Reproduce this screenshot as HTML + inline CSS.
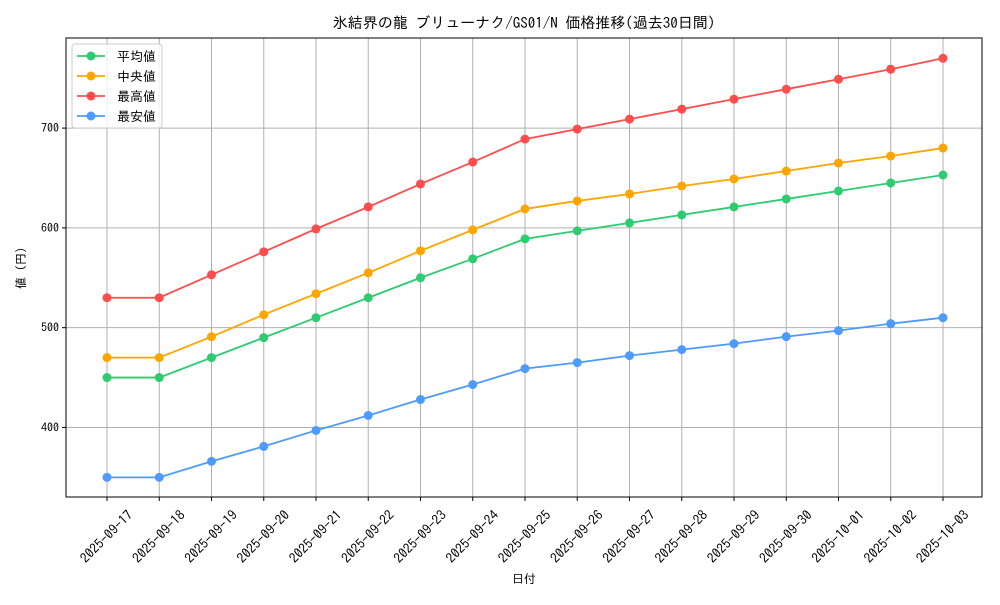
<!DOCTYPE html>
<html><head><meta charset="utf-8"><style>
body{margin:0;background:#fff}
svg text{font-family:"IPAGothic","Liberation Sans",sans-serif;fill:#000}
</style></head><body>
<svg id="c" width="1000" height="600" xmlns="http://www.w3.org/2000/svg"></svg>
<script>
const categories=["2025-09-17","2025-09-18","2025-09-19","2025-09-20","2025-09-21","2025-09-22","2025-09-23","2025-09-24","2025-09-25","2025-09-26","2025-09-27","2025-09-28","2025-09-29","2025-09-30","2025-10-01","2025-10-02","2025-10-03"];
const avgValues=[450,450,470,490,510,530,550,569,589,597,605,613,621,629,637,645,653];
const medianValues=[470,470,491,513,534,555,577,598,619,627,634,642,649,657,665,672,680];
const maxValues=[530,530,553,576,599,621,644,666,689,699,709,719,729,739,749,759,770];
const minValues=[350,350,366,381,397,412,428,443,459,465,472,478,484,491,497,504,510];
const yTicks=[400,500,600,700];
const seriesNames=["平均値","中央値","最高値","最安値"];
const NS="http://www.w3.org/2000/svg";
const svg=document.getElementById('c');
const L=66,R=982,T=38,B=497,yMin=330.3,yMax=790.3;
const xs=i=>107+i*(943-107)/(categories.length-1);
const ys=v=>B-(v-yMin)/(yMax-yMin)*(B-T);
function el(t,a,p){const e=document.createElementNS(NS,t);for(const k in a)e.setAttribute(k,a[k]);(p||svg).appendChild(e);return e;}
categories.forEach((c,i)=>{const g=el('line',{x1:xs(i),x2:xs(i),y1:T,y2:B,stroke:'#b0b0b0','stroke-width':1});


el('line',{x1:xs(i),x2:xs(i),y1:B,y2:B+4,stroke:'#000'});
const cx=xs(i),cy=537;
const t=el('text',{x:cx,y:cy+4,'font-size':13.5,'text-anchor':'middle',transform:`rotate(-45 ${cx} ${cy})`});t.textContent=c;

});
yTicks.forEach(v=>{const g=el('line',{x1:L,x2:R,y1:ys(v),y2:ys(v),stroke:'#b0b0b0','stroke-width':1});


el('line',{x1:L-4,x2:L,y1:ys(v),y2:ys(v),stroke:'#000'});
const t=el('text',{x:L-7,y:ys(v)+4,'font-size':12,'text-anchor':'end'});t.textContent=v;

});
const fr=el('rect',{x:L,y:T,width:R-L,height:B-T,fill:'none',stroke:'#000','stroke-width':1});


const series=[avgValues,medianValues,maxValues,minValues];
const colors=['#2ecc71','#ffa500','#ff4d4d','#4d9bff'];
const names=['series-average','series-median','series-max','series-min'];
series.forEach((s,k)=>{const g=el('g',{});


el('polyline',{points:s.map((v,i)=>xs(i)+','+ys(v)).join(' '),fill:'none',stroke:colors[k],'stroke-width':1.8},g);
s.forEach((v,i)=>{const c=el('circle',{cx:xs(i),cy:ys(v),r:4.5,fill:colors[k]},g);

});});
const lg=el('g',{});


el('rect',{x:72,y:44,width:90,height:84,rx:3,fill:'#fff','fill-opacity':0.8,stroke:'#ccc'},lg);
seriesNames.forEach((n,k)=>{const y=56+k*20;const e=el('g',{},lg);


el('line',{x1:77,x2:105,y1:y,y2:y,stroke:colors[k],'stroke-width':1.8},e);
el('circle',{cx:91,cy:y,r:4.5,fill:colors[k]},e);
const t=el('text',{x:117,y:y+5,'font-size':13},e);t.textContent=n;});
const title=el('text',{x:524,y:28,'font-size':15,'text-anchor':'middle'});title.textContent='氷結界の龍 ブリューナク/GS01/N 価格推移(過去30日間)';


const xt=el('text',{x:524,y:583,'font-size':12,'text-anchor':'middle'});xt.textContent='日付';


const yt=el('text',{x:25,y:268,'font-size':12,'text-anchor':'middle',transform:'rotate(-90 25 268)'});yt.textContent='値 (円)';


</script>
</body></html>
